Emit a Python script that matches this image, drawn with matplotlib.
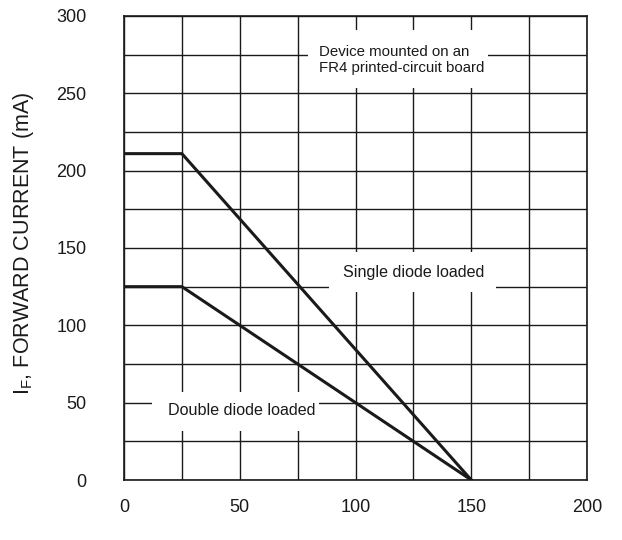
#!/usr/bin/env python3

import matplotlib

matplotlib.use("Agg")
import matplotlib.pyplot as plt
from matplotlib.patches import Rectangle
import numpy as np

# derating curves: ambient temperature (°C) vs forward current (mA)
temp_c = [0, 25, 150]
single_ma = [211, 211, 0]
double_ma = [125, 125, 0]

x_ticks = [0, 50, 100, 150, 200]
y_ticks = [0, 50, 100, 150, 200, 250, 300]

plt.rcParams.update(
    {
        "font.family": ["Liberation Sans", "DejaVu Sans"],
        "mathtext.fontset": "custom",
        "mathtext.rm": "Liberation Sans",
        "text.color": "#1a1a1a",
    }
)

ink = "#1a1a1a"

fig = plt.figure(figsize=(6.22, 5.4), dpi=100, facecolor="white")
ax = fig.add_axes([0.1994, 0.1111, 0.7444, 0.8593])

ax.set_xlim(0, 200)
ax.set_ylim(0, 300)
ax.set_xticks(x_ticks)
ax.set_yticks(y_ticks)
ax.set_xticks(np.arange(0, 201, 25), minor=True)
ax.set_yticks(np.arange(0, 301, 25), minor=True)
ax.tick_params(which="both", length=0, labelsize=13, colors=ink)
ax.tick_params(axis="x", pad=14)
ax.tick_params(axis="y", pad=27)
ax.grid(which="both", color=ink, linewidth=1.0, zorder=1)
ax.set_axisbelow(True)
for s in ax.spines.values():
    s.set_color(ink)
    s.set_linewidth(1.2)

ax.plot(temp_c, single_ma, color=ink, linewidth=2.2, zorder=4, solid_joinstyle="miter")
ax.plot(temp_c, double_ma, color=ink, linewidth=2.2, zorder=4, solid_joinstyle="miter")

# white boxes behind the annotations, cutting the grid
for (x0, y0, w, h) in [(79.5, 253.4, 77.8, 37.5), (88.6, 121.5, 72.1, 25.9), (12.1, 31.7, 72.1, 25.2)]:
    ax.add_patch(Rectangle((x0, y0), w, h, facecolor="white", edgecolor="none", zorder=2))

ax.text(84.2, 271.5, "Device mounted on an\nFR4 printed-circuit board", fontsize=10.8,
        ha="left", va="center", linespacing=1.2, zorder=5)
ax.text(94.6, 134, "Single diode loaded", fontsize=11.6, ha="left", va="center", zorder=5)
ax.text(19.0, 45.2, "Double diode loaded", fontsize=11.6, ha="left", va="center", zorder=5)

fig.text(0.037, 0.55, r"$\mathregular{I_F}$, FORWARD CURRENT (mA)", rotation=90,
         fontsize=15.5, ha="center", va="center")

fig.savefig("out.png", dpi=100, facecolor="white")
plt.close(fig)
